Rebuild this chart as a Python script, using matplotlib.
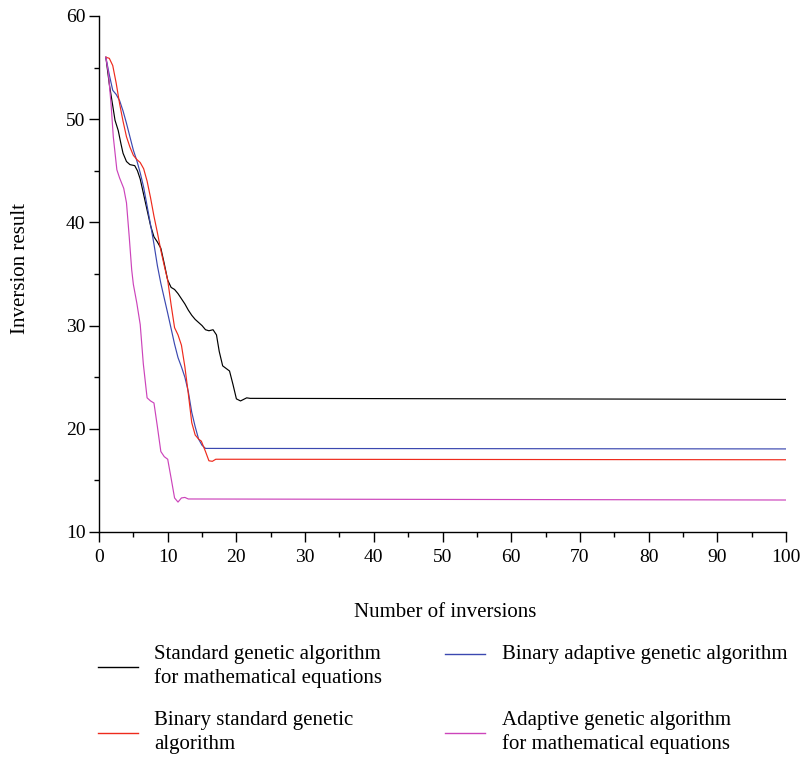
import matplotlib
matplotlib.use("Agg")
import matplotlib.pyplot as plt
from matplotlib.lines import Line2D
from matplotlib.ticker import MultipleLocator

plt.rcParams['font.family'] = ['Liberation Serif', 'DejaVu Serif']

# ---- data ----
black_x = [1, 1.5, 2, 2.33, 2.8, 3.2, 3.5, 4, 4.5, 5.2, 5.6, 6, 6.5, 7, 7.5, 8, 8.5, 9,
           9.5, 10, 10.5, 11, 11.5, 12, 12.5, 13, 13.5, 14, 15, 15.5, 16, 16.6, 17.1,
           17.5, 18, 19, 19.5, 20, 20.6, 21.5, 22, 100]
black_y = [56, 53.4, 51.3, 49.9, 48.9, 47.6, 46.7, 45.9, 45.6, 45.5, 45.0, 44.2, 42.7,
           41.2, 39.7, 38.6, 38.1, 37.5, 36.0, 34.4, 33.7, 33.5, 33.1, 32.6, 32.1, 31.5,
           31.0, 30.6, 30.0, 29.6, 29.5, 29.6, 29.1, 27.5, 26.1, 25.6, 24.3, 22.9, 22.7,
           23.0, 22.95, 22.85]

red_x = [1, 1.5, 2, 2.5, 3, 3.5, 4, 4.5, 5, 5.5, 6, 6.5, 7, 7.5, 8, 8.5, 9, 9.5, 10,
         10.5, 11, 11.5, 12, 12.5, 13, 13.5, 14, 14.5, 14.9, 15.5, 16, 16.5, 17, 100]
red_y = [56, 55.9, 55.2, 53.5, 51.5, 49.8, 48.3, 47.3, 46.5, 46.1, 45.8, 45.2, 44.0,
         42.4, 40.6, 39.0, 37.3, 35.8, 34.4, 32.0, 29.8, 29.1, 28.1, 26.0, 23.4, 20.6,
         19.4, 19.0, 18.8, 17.8, 16.9, 16.85, 17.05, 17.0]

blue_x = [1, 1.5, 2, 2.5, 3, 3.5, 4, 5, 5.5, 6, 6.5, 7, 7.5, 8, 8.5, 9, 10, 11, 11.5,
          12, 12.5, 13, 13.5, 14, 14.5, 15, 15.5, 100]
blue_y = [56, 54.3, 52.8, 52.4, 51.8, 50.8, 49.6, 47.0, 46.0, 44.8, 43.4, 41.6, 39.8,
          37.9, 35.8, 34.1, 31.2, 28.2, 26.9, 26.0, 25.0, 23.6, 21.6, 20.2, 19.0, 18.4,
          18.1, 18.05]

pink_x = [1, 1.36, 1.75, 2.08, 2.6, 3, 3.3, 3.6, 4, 4.4, 4.76, 5, 5.5, 6, 6.45, 7, 7.5,
          8, 8.5, 9, 9.5, 10, 10.5, 11, 11.5, 12, 12.5, 13, 100]
pink_y = [56, 54.5, 51.5, 48.3, 45.1, 44.3, 43.8, 43.3, 41.9, 38.6, 35.4, 34.0, 32.2,
          30.1, 26.3, 23.0, 22.7, 22.5, 20.2, 17.8, 17.3, 17.05, 15.2, 13.3, 12.9, 13.3,
          13.35, 13.2, 13.1]

labels = ["Standard genetic algorithm\nfor mathematical equations",
          "Binary adaptive genetic algorithm",
          "Binary standard genetic\nalgorithm",
          "Adaptive genetic algorithm\nfor mathematical equations"]
colors = ["#000000", "#3b48b0", "#ee2a1c", "#cc44bb"]
series = [(black_x, black_y), (blue_x, blue_y), (red_x, red_y), (pink_x, pink_y)]

xlabel = "Number of inversions"
ylabel = "Inversion result"

W, H = 801, 759
fig = plt.figure(figsize=(W / 100, H / 100), dpi=100)
ax = fig.add_axes([99 / W, 1 - 532 / H, 687 / W, 516 / H])

for (xs, ys), c in zip(series, colors):
    ax.plot(xs, ys, color=c, lw=0.85, solid_joinstyle='round')

ax.set_xlim(0, 100)
ax.set_ylim(10, 60)
ax.xaxis.set_major_locator(MultipleLocator(10))
ax.xaxis.set_minor_locator(MultipleLocator(5))
ax.yaxis.set_major_locator(MultipleLocator(10))
ax.yaxis.set_minor_locator(MultipleLocator(5))
for s in ['top', 'right']:
    ax.spines[s].set_visible(False)
for s in ['left', 'bottom']:
    ax.spines[s].set_linewidth(1.0)
ax.tick_params(which='major', direction='out', length=7.2, width=1.0, labelsize=14)
ax.tick_params(which='minor', direction='out', length=3.8, width=1.0)
ax.tick_params(axis='x', which='major', pad=5)
ax.tick_params(axis='y', which='major', pad=2.5)

def px(x, y):
    return x / W, 1 - y / H

fig.text(*px(445, 616.7), xlabel, ha='center', va='baseline', fontsize=15)
fig.text(*px(21, 268), ylabel, ha='center', va='center', rotation=90, fontsize=15)

# legend (manual, two columns)
handle_pos = [(98, 138, 666.7), (445, 485, 654), (98, 138, 732.7), (445, 485, 732.7)]
text_pos = [(154, 659.3), (501.7, 659.3), (154, 725), (501.7, 725)]
for lab, c, (x0, x1, yl), (tx, ty) in zip(labels, colors, handle_pos, text_pos):
    fig.add_artist(Line2D([x0 / W, x1 / W], [1 - yl / H, 1 - yl / H],
                          transform=fig.transFigure, color=c, lw=1.0))
    for i, line in enumerate(lab.split("\n")):
        fig.text(*px(tx, ty + 24 * i), line, ha='left', va='baseline', fontsize=15)

fig.savefig("out.png", dpi=100)
